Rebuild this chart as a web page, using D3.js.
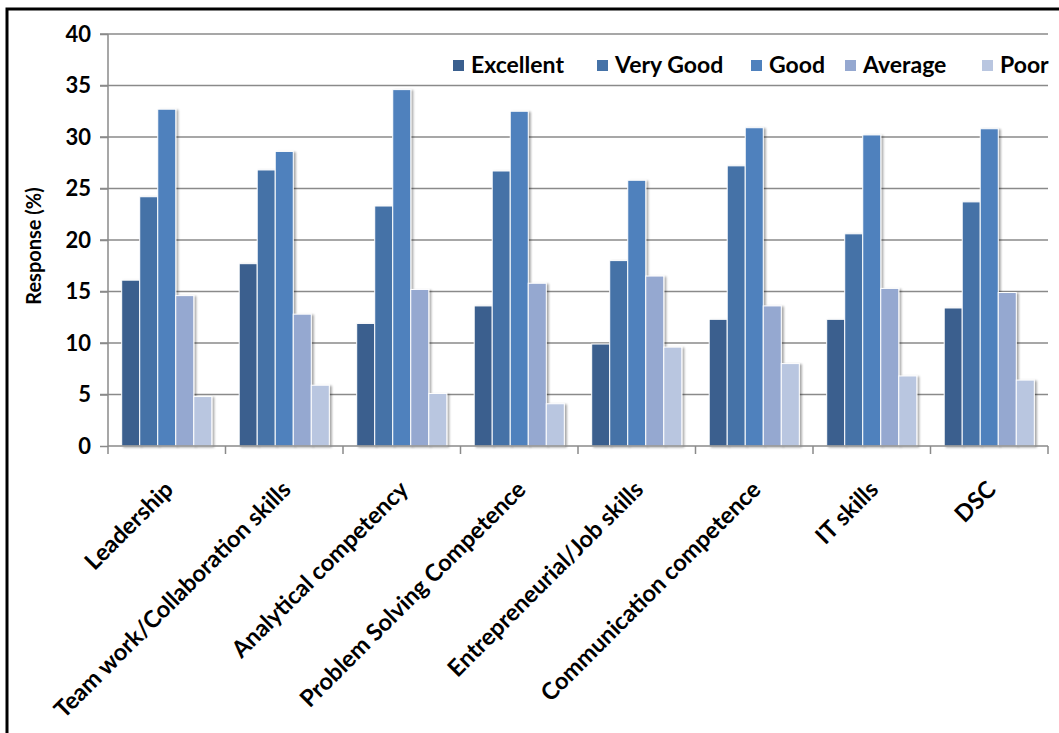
<!DOCTYPE html>
<html>
<head>
<meta charset="utf-8">
<script src="https://cdn.jsdelivr.net/npm/d3@7"></script>
<style>
   body { margin: 0; background: #fff; }
   text { font-family: Lato, "Open Sans", sans-serif; font-weight: bold; fill: #000; }
</style>
</head>
<body>
<svg id="chart" width="1059" height="733"></svg>
<script>
// data //
var categories = ["Leadership", "Team work/Collaboration skills", "Analytical competency",
   "Problem Solving Competence", "Entrepreneurial/Job skills", "Communication competence",
   "IT skills", "DSC"];
var series_names = ["Excellent", "Very Good", "Good", "Average", "Poor"];
var excellent = [16.1, 17.7, 11.9, 13.6, 9.9, 12.3, 12.3, 13.4];
var very_good = [24.2, 26.8, 23.3, 26.7, 18.0, 27.2, 20.6, 23.7];
var good      = [32.7, 28.6, 34.6, 32.5, 25.8, 30.9, 30.2, 30.8];
var average   = [14.6, 12.8, 15.2, 15.8, 16.5, 13.6, 15.3, 14.9];
var poor      = [4.8, 5.9, 5.1, 4.1, 9.6, 8.0, 6.8, 6.4];
var y_ticks = [0, 5, 10, 15, 20, 25, 30, 35, 40];
var colors = ["#3A5F8E", "#4572A7", "#4F81BD", "#95A8D0", "#B9C6E0"];

var series = [excellent, very_good, good, average, poor];

var svg_canvas = d3.select("#chart");

// drop shadow like the office chart
var defs = svg_canvas.append("defs");
defs.append("filter").attr("id", "shadow")
   .attr("x", "-20%").attr("y", "-5%").attr("width", "160%").attr("height", "120%")
   .append("feDropShadow")
   .attr("dx", 2).attr("dy", 1).attr("stdDeviation", 1.2)
   .attr("flood-color", "#000").attr("flood-opacity", 0.35);

var plot_left = 108, plot_right = 1048, plot_top = 34, plot_bottom = 446;

var x = d3.scaleBand().domain(categories).range([plot_left, plot_right]).paddingInner(0).paddingOuter(0);
var x_inner = d3.scaleBand().domain(series_names).range([0, x.bandwidth()]).paddingOuter(0.76).paddingInner(0);
var y = d3.scaleLinear().domain([0, 40]).range([plot_bottom, plot_top]);

// frame
svg_canvas.append("rect")
   .attr("x", 7).attr("y", 9).attr("width", 1070).attr("height", 760)
   .attr("fill", "none").attr("stroke", "#000").attr("stroke-width", 3);

// gridlines
svg_canvas.append("g").selectAll("line").data(y_ticks.filter(function(d) { return d > 0; }))
   .enter().append("line")
   .attr("x1", plot_left - 8).attr("x2", plot_right)
   .attr("y1", function(d) { return y(d); }).attr("y2", function(d) { return y(d); })
   .attr("stroke", "#8a8a8a").attr("stroke-width", 1.5);

// bars
var grp_bars = svg_canvas.append("g").attr("id", "grp_bars");
series.forEach(function(values, si) {
   grp_bars.append("g").selectAll("rect").data(values)
      .enter().append("rect")
      .attr("x", function(d, i) { return x(categories[i]) + x_inner(series_names[si]); })
      .attr("y", function(d) { return y(d); })
      .attr("width", x_inner.bandwidth())
      .attr("height", function(d) { return y(0) - y(d); })
      .attr("fill", colors[si])
      .attr("stroke", "#fff").attr("stroke-width", 1)
      .attr("filter", "url(#shadow)");
});

// y axis
var y_axis = svg_canvas.append("g")
   .attr("transform", "translate(" + plot_left + ",0)")
   .call(d3.axisLeft(y).tickValues(y_ticks).tickSize(8).tickPadding(9));
y_axis.select(".domain").attr("stroke", "#8a8a8a").attr("stroke-width", 1.5)
   .attr("d", "M0," + plot_top + "V" + plot_bottom);
y_axis.selectAll(".tick line").attr("stroke", "#8a8a8a").attr("stroke-width", 1.5);
y_axis.selectAll(".tick text").style("font-size", "22px").attr("fill", "#000")
   .style("font-family", "Lato, sans-serif").style("font-weight", "bold");

// x axis with ticks on the band edges
var x_axis = svg_canvas.append("g").attr("transform", "translate(0," + plot_bottom + ")");
x_axis.append("line").attr("x1", plot_left).attr("x2", plot_right)
   .attr("stroke", "#8a8a8a").attr("stroke-width", 1.5);
x_axis.selectAll("line.tick").data(categories.concat(["_end"]))
   .enter().append("line").attr("class", "tick")
   .attr("x1", function(d, i) { return plot_left + i * x.bandwidth(); })
   .attr("x2", function(d, i) { return plot_left + i * x.bandwidth(); })
   .attr("y1", 0).attr("y2", 8)
   .attr("stroke", "#8a8a8a").attr("stroke-width", 1.5);
x_axis.selectAll("text").data(categories)
   .enter().append("text")
   .attr("transform", function(d) {
      return "translate(" + (x(d) + x.bandwidth() / 2 + 8) + ",45) rotate(-45)";
   })
   .attr("text-anchor", "end")
   .style("font-size", "23.5px")
   .text(function(d) { return d; });

// y title
svg_canvas.append("text")
   .attr("transform", "translate(41," + ((plot_top + plot_bottom) / 2 + 6) + ") rotate(-90)")
   .attr("text-anchor", "middle")
   .style("font-size", "20px")
   .text("Response (%)");

// legend
var legend_x = [453, 597, 751, 845, 982];
var grp_legend = svg_canvas.append("g").attr("id", "grp_legend");
var items = grp_legend.selectAll("g").data(series_names)
   .enter().append("g")
   .attr("transform", function(d, i) { return "translate(" + legend_x[i] + ",65)"; });
items.append("rect")
   .attr("x", 0).attr("y", -5).attr("width", 11).attr("height", 11)
   .attr("fill", function(d, i) { return colors[i]; });
items.append("text")
   .attr("x", 18).attr("dy", "0.36em")
   .style("font-size", "23px")
   .text(function(d) { return d; });
</script>
</body>
</html>
